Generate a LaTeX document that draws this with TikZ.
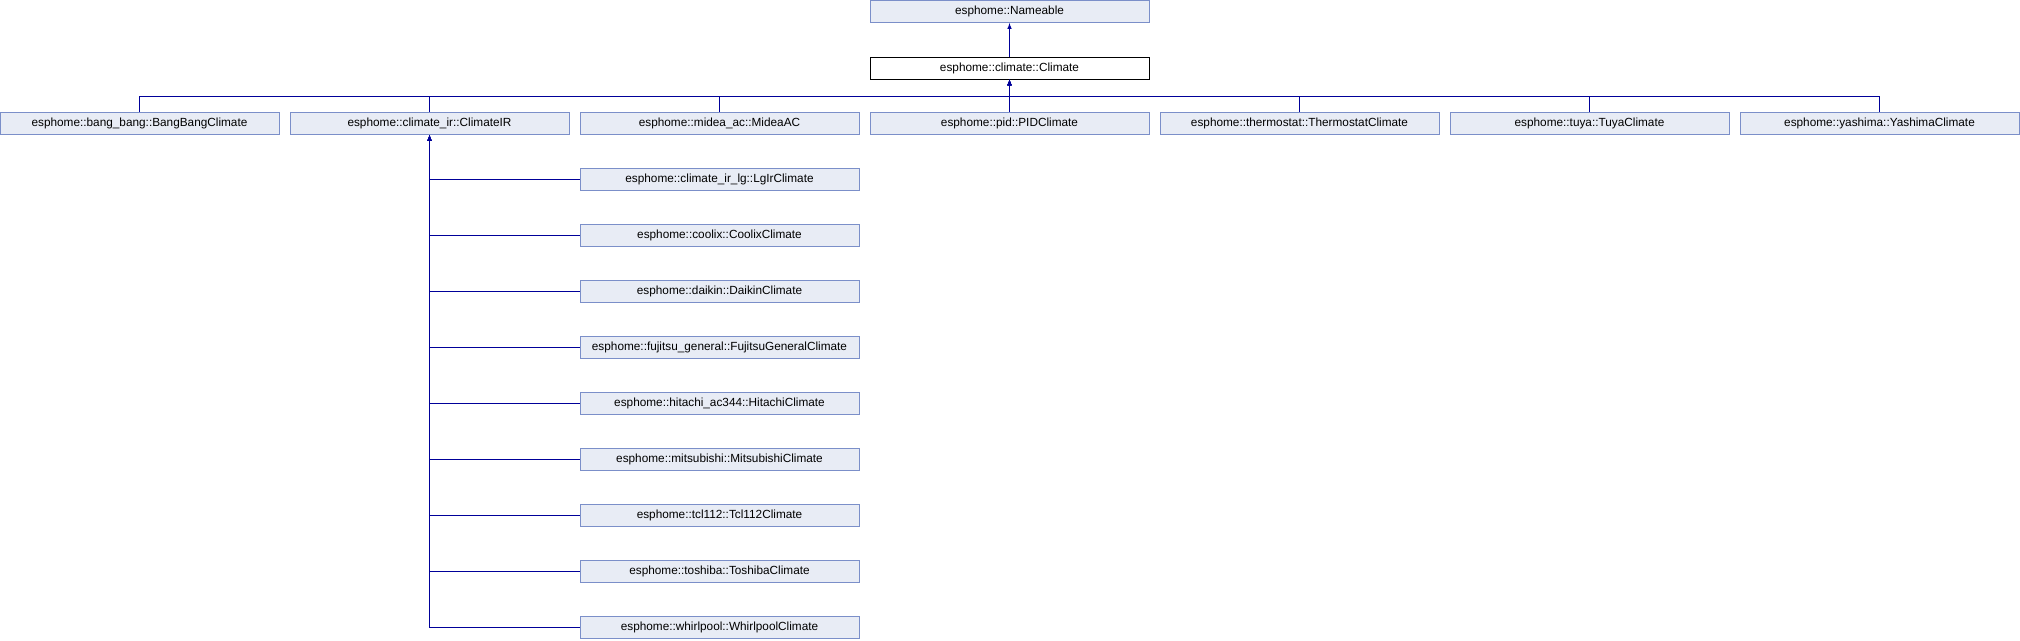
\documentclass[tikz,border=0pt]{standalone}
\usepackage{fontspec}
\setmainfont{Liberation Sans}
\usepackage{xcolor}
\usepackage{tikz}
\usetikzlibrary{positioning, arrows}
\definecolor{boxfill}{HTML}{E8ECF5}
\definecolor{boxline}{HTML}{7B8FC9}
\definecolor{linkblue}{HTML}{000099}
\tikzstyle{cls} = [rectangle, minimum width=279pt, minimum height=22pt, inner sep=0pt, text centered, draw=boxline, fill=boxfill, line width=1pt, font=\fontsize{11.8}{14}\selectfont]
\tikzstyle{base} = [cls, draw=black, fill=white]
\tikzstyle{arrow} = [line width=1pt, draw=linkblue, <-, >=latex]
\tikzstyle{link} = [line width=1pt, draw=linkblue]

\begin{document}
\begin{tikzpicture}[x=1pt, y=1pt, node distance=290pt]
\useasboundingbox (0,0) rectangle (2020,-640);

% middle row
\node (pid) [cls] at (1009.5,-123.5) {esphome::pid::PIDClimate};
\node (midea) [cls, left of=pid] {esphome::midea\_ac::MideaAC};
\node (climateir) [cls, left of=midea] {esphome::climate\_ir::ClimateIR};
\node (bangbang) [cls, left of=climateir] {esphome::bang\_bang::BangBangClimate};
\node (thermostat) [cls, right of=pid] {esphome::thermostat::ThermostatClimate};
\node (tuya) [cls, right of=thermostat] {esphome::tuya::TuyaClimate};
\node (yashima) [cls, right of=tuya] {esphome::yashima::YashimaClimate};

% parents
\node (climate) [base, above of=pid, node distance=55.5pt] {esphome::climate::Climate};
\node (nameable) [cls, above of=climate, node distance=56.5pt] {esphome::Nameable};

% ClimateIR column
\node (lgir) [cls] at (719.5,-179.5) {esphome::climate\_ir\_lg::LgIrClimate};
\node (coolix) [cls, below of=lgir, node distance=56pt] {esphome::coolix::CoolixClimate};
\node (daikin) [cls, below of=coolix, node distance=56pt] {esphome::daikin::DaikinClimate};
\node (fujitsu) [cls, below of=daikin, node distance=56pt] {esphome::fujitsu\_general::FujitsuGeneralClimate};
\node (hitachi) [cls, below of=fujitsu, node distance=56pt] {esphome::hitachi\_ac344::HitachiClimate};
\node (mitsubishi) [cls, below of=hitachi, node distance=56pt] {esphome::mitsubishi::MitsubishiClimate};
\node (tcl) [cls, below of=mitsubishi, node distance=56pt] {esphome::tcl112::Tcl112Climate};
\node (toshiba) [cls, below of=tcl, node distance=56pt] {esphome::toshiba::ToshibaClimate};
\node (whirlpool) [cls, below of=toshiba, node distance=56pt] {esphome::whirlpool::WhirlpoolClimate};

\draw [arrow] (nameable) -- (climate);

\draw [arrow] (climate.south) -- ++(0,-17) -| (bangbang.north);
\draw [arrow] (climate.south) -- ++(0,-17) -| (climateir.north);
\draw [arrow] (climate.south) -- ++(0,-17) -| (midea.north);
\draw [arrow] (climate.south) -- (pid.north);
\draw [arrow] (climate.south) -- ++(0,-17) -| (thermostat.north);
\draw [arrow] (climate.south) -- ++(0,-17) -| (tuya.north);
\draw [arrow] (climate.south) -- ++(0,-17) -| (yashima.north);

\draw [arrow] (climateir.south) |- (lgir.west);
\draw [arrow] (climateir.south) |- (coolix.west);
\draw [arrow] (climateir.south) |- (daikin.west);
\draw [arrow] (climateir.south) |- (fujitsu.west);
\draw [arrow] (climateir.south) |- (hitachi.west);
\draw [arrow] (climateir.south) |- (mitsubishi.west);
\draw [arrow] (climateir.south) |- (tcl.west);
\draw [arrow] (climateir.south) |- (toshiba.west);
\draw [arrow] (climateir.south) |- (whirlpool.west);

\end{tikzpicture}
\end{document}
